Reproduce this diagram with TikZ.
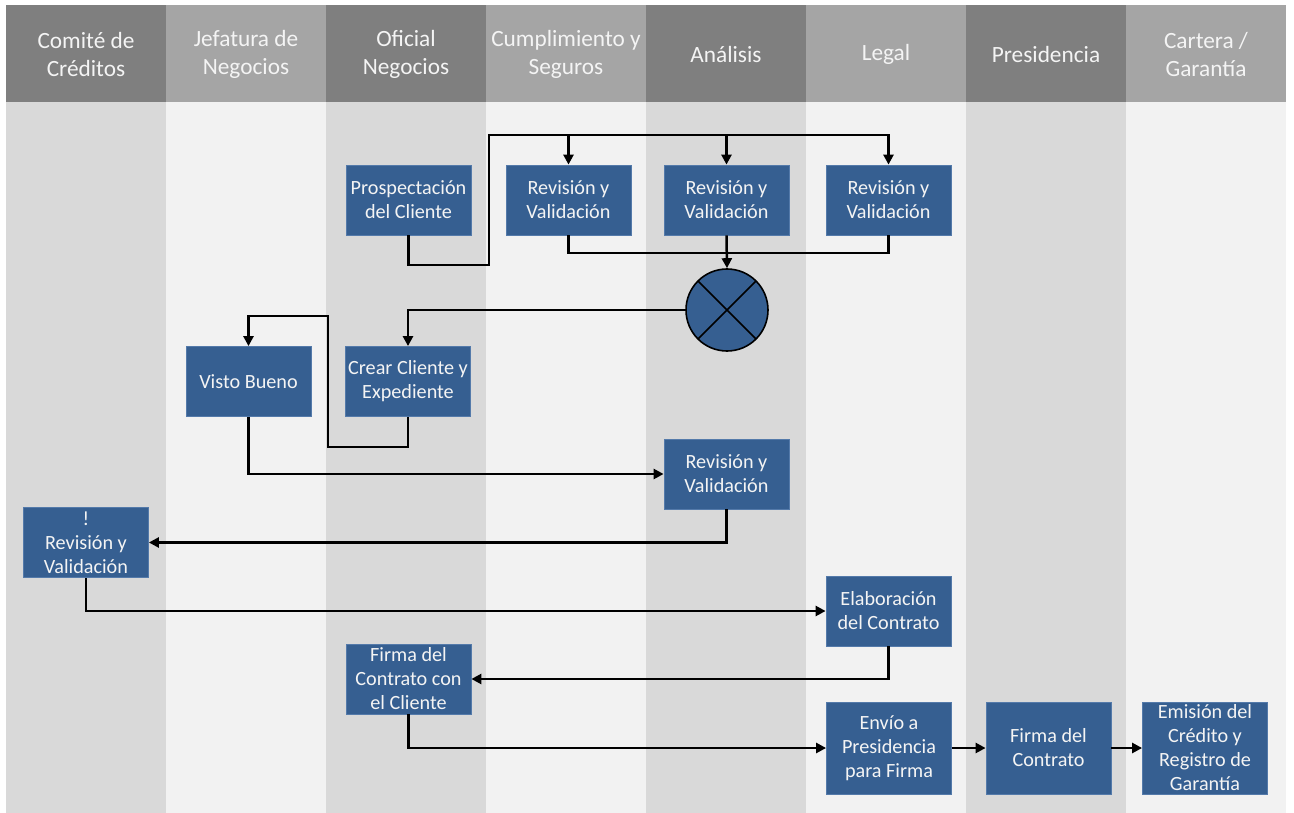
\documentclass[tikz,border=0pt]{standalone}
\usepackage{fontspec}
\setmainfont{Carlito}
\usetikzlibrary{arrows.meta}

\definecolor{hdark}{RGB}{127,127,127}
\definecolor{hlight}{RGB}{165,165,165}
\definecolor{bdark}{RGB}{217,217,217}
\definecolor{blight}{RGB}{242,242,242}
\definecolor{boxblue}{RGB}{54,95,145}
\definecolor{boxedge}{RGB}{84,122,170}
\definecolor{txt}{RGB}{244,244,244}

\tikzset{
  stepbox/.style={rectangle, fill=boxblue, draw=boxedge, line width=0.8pt,
    minimum width=125pt, minimum height=70pt, inner sep=1pt, align=center,
    text=txt, font=\fontsize{20.2}{24}\selectfont},
  tallbox/.style={stepbox, minimum height=92pt},
  lanehead/.style={align=center, text=txt, font=\fontsize{23.3}{28}\selectfont},
  link/.style={line width=2.5pt, black},
  arr/.style={link, -{Triangle[length=10pt,width=10pt]}},
  gate/.style={circle, fill=boxblue, draw=black, line width=1.6pt,
    minimum size=82pt, inner sep=0pt,
    path picture={
      \draw[black, line width=1.6pt]
        (path picture bounding box.north west) -- (path picture bounding box.south east)
        (path picture bounding box.north east) -- (path picture bounding box.south west);
    }}
}

\begin{document}
\begin{tikzpicture}[x=1pt, y=-1pt]
  \useasboundingbox[fill=white] (0,0) rectangle (1294,813);

  % swimlanes: bodies and headers
  \foreach \i in {0,...,7} {
    \pgfmathsetmacro{\xl}{6+160*\i}
    \pgfmathsetmacro{\xr}{6+160*(\i+1)}
    \ifodd\i
      \fill[blight] (\xl,102) rectangle (\xr,813);
      \fill[hlight] (\xl,5) rectangle (\xr,102);
    \else
      \fill[bdark] (\xl,102) rectangle (\xr,813);
      \fill[hdark] (\xl,5) rectangle (\xr,102);
    \fi
  }

  \node[lanehead] (h1) at (86,54)   {Comité de\\Créditos};
  \node[lanehead] (h2) at (246,54)  {Jefatura de\\Negocios};
  \node[lanehead] (h3) at (406,54)  {Oficial\\Negocios};
  \node[lanehead] (h4) at (566,54)  {Cumplimiento y\\Seguros};
  \node[lanehead] (h5) at (726,54)  {Análisis};
  \node[lanehead] (h6) at (886,54)  {Legal};
  \node[lanehead] (h7) at (1046,54) {Presidencia};
  \node[lanehead] (h8) at (1206,54) {Cartera /\\Garantía};

  % process steps
  \node[stepbox] (pros)   at (408.5,200) {Prospectación\\del Cliente};
  \node[stepbox] (rv1)    at (568.5,200) {Revisión y\\Validación};
  \node[stepbox] (rv2)    at (726.5,200) {Revisión y\\Validación};
  \node[stepbox] (rv3)    at (888.5,200) {Revisión y\\Validación};
  \node[gate]    (circ)   at (727,310) {};
  \node[stepbox] (visto)  at (248.5,381.5) {Visto Bueno};
  \node[stepbox] (crear)  at (408,381.5) {Crear Cliente y\\Expediente};
  \node[stepbox] (rv4)    at (726.5,474) {Revisión y\\Validación};
  \node[stepbox] (com)    at (86,542.5) {!\\Revisión y\\Validación};
  \node[stepbox] (elab)   at (888.5,611) {Elaboración\\del Contrato};
  \node[stepbox] (firmac) at (408.5,679) {Firma del\\Contrato con\\el Cliente};
  \node[tallbox] (envio)  at (889,748) {Envío a\\Presidencia\\para Firma};
  \node[tallbox] (firma)  at (1048.5,748) {Firma del\\Contrato};
  \node[tallbox] (emis)   at (1205,748) {Emisión del\\Crédito y\\Registro de\\Garantía};

  % routing points
  \coordinate (j1) at (489,265);
  \coordinate (j2) at (489,135);
  \coordinate (j3) at (727,253);
  \coordinate (k1) at (328,447);
  \coordinate (k2) at (328,316);

  % connectors
  \draw[arr] (pros.south) |- (j1) -- (j2) -| (rv3.north);
  \draw[arr] (rv1.north |- j2) -- (rv1.north);
  \draw[arr] (rv2.north |- j2) -- (rv2.north);
  \draw[link] (rv1.south) |- (j3) -| (rv3.south);
  \draw[arr] (rv2.south) -- (circ.north);
  \draw[arr] (circ.west) -| (crear.north);
  \draw[arr] (crear.south) |- (k1) -- (k2) -| (visto.north);
  \draw[arr] (visto.south) |- (rv4.west);
  \draw[arr] (rv4.south) |- (com.east);
  \draw[arr] (com.south) |- (elab.west);
  \draw[arr] (elab.south) |- (firmac.east);
  \draw[arr] (firmac.south) |- (envio.west);
  \draw[arr] (envio.east) -- (firma.west);
  \draw[arr] (firma.east) -- (emis.west);
\end{tikzpicture}
\end{document}
